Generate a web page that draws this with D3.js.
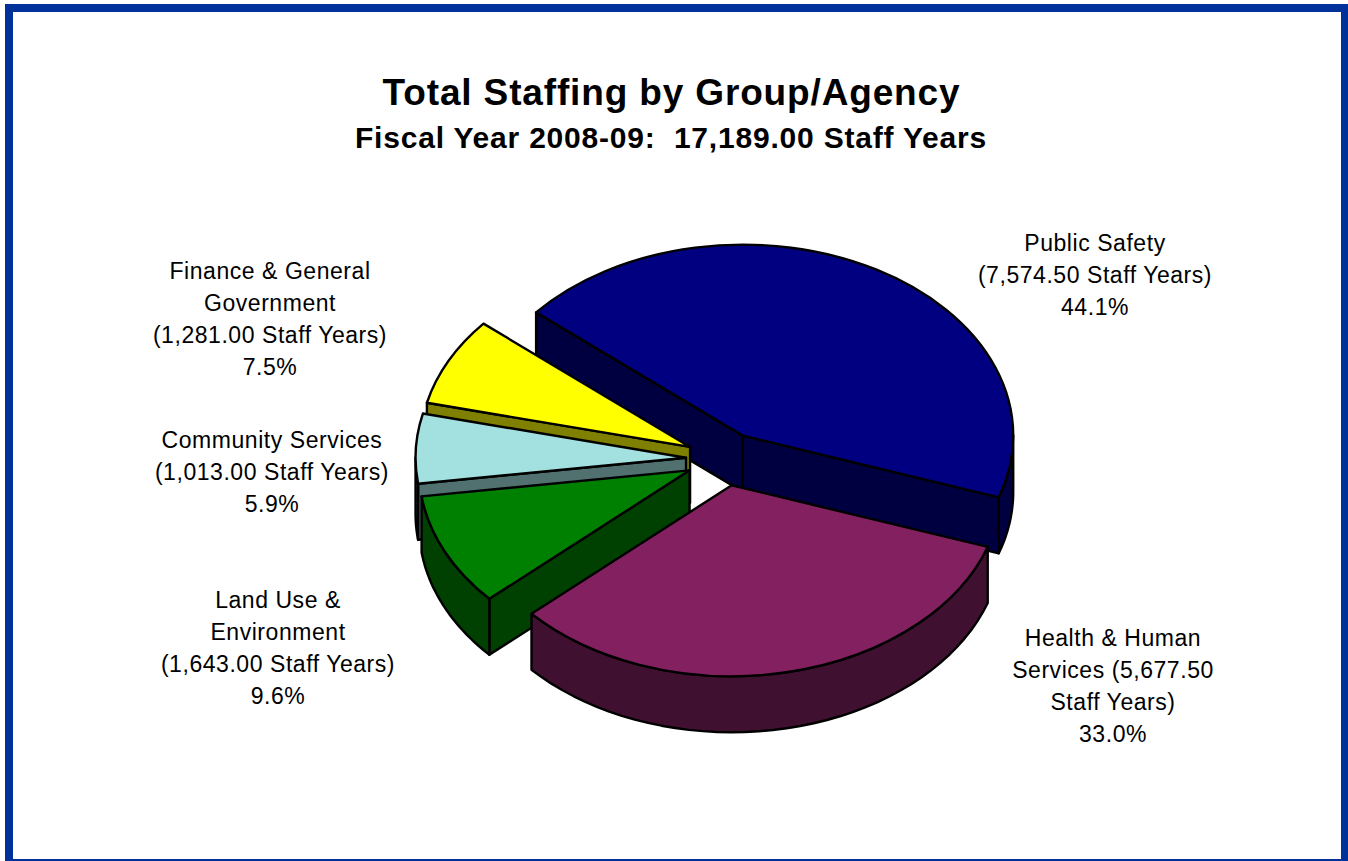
<!DOCTYPE html>
<html>
<head>
<meta charset="utf-8">
<script src="https://cdn.jsdelivr.net/npm/d3@7"></script>
<style>
  html, body { margin: 0; padding: 0; background: #fff; }
  svg { display: block; font-family: "Liberation Sans", Arial, sans-serif; }
  .slice path { stroke: #000; stroke-width: 2.4; stroke-linejoin: round; }
  .label { font-size: 23px; letter-spacing: 0.55px; fill: #000; text-anchor: middle; }
</style>
</head>
<body>
<svg id="chart" width="1348" height="861"></svg>
<script>
const groups = ['Public Safety', 'Health & Human Services', 'Land Use & Environment', 'Community Services', 'Finance & General Government'];
const staffYears = [7574.5, 5677.5, 1643, 1013, 1281];
const topColors = ['#000080', '#822060', '#008000', '#a3e0e0', '#ffff00'];
const wallColors = ['#000040', '#401030', '#004000', '#517070', '#808000'];
// word counts where each label wraps, the name and the staff years share one string
const labelBreaks = [[2], [3, 5], [3, 4], [2], [3, 4]];
const labelX = [1095, 1113, 278, 272, 270];
const labelY = [251, 646, 608, 448, 279];
const lineHeight = 32;

const title = 'Total Staffing by Group/Agency';
const subtitle = 'Fiscal Year 2008-09:  17,189.00 Staff Years';

const cx = 724, cy = 459;
const radius = 270.5;
const tilt = 0.706;
const depth = 56;
const explode = 38;
const firstAngle = -49.8 * Math.PI / 180;

const svg = d3.select('#chart');
const formatStaff = d3.format(',.2f');
const formatPct = d3.format('.1%');
const total = d3.sum(staffYears);

// frame, the bottom edge of the page cuts it down to a thin line
const frameColor = '#00309a';
svg.append('rect').attr('x', 5).attr('y', 4).attr('width', 1343).attr('height', 8).attr('fill', frameColor);
svg.append('rect').attr('x', 5).attr('y', 4).attr('width', 8).attr('height', 857).attr('fill', frameColor);
svg.append('rect').attr('x', 1341).attr('y', 4).attr('width', 7).attr('height', 857).attr('fill', frameColor);
svg.append('rect').attr('x', 5).attr('y', 859).attr('width', 1343).attr('height', 2).attr('fill', frameColor);

svg.append('text').text(title)
  .attr('x', 671.5).attr('y', 105)
  .attr('text-anchor', 'middle')
  .attr('font-size', 37).attr('font-weight', 'bold')
  .style('letter-spacing', '0.85px');
svg.append('text').text(subtitle)
  .attr('x', 671).attr('y', 148)
  .attr('text-anchor', 'middle')
  .attr('font-size', 30).attr('font-weight', 'bold')
  .style('letter-spacing', '0.8px')
  .style('white-space', 'pre');

const pie = d3.pie().sort(null)
  .startAngle(firstAngle)
  .endAngle(firstAngle + 2 * Math.PI);
const arcs = pie(staffYears);

const topArc = d3.arc().innerRadius(0).outerRadius(radius);
const line = d3.line();
const px = (a) => radius * Math.sin(a);
const py = (a) => -radius * tilt * Math.cos(a);

function wallPath(a0, a1) {
  const steps = d3.range(0, 41).map((i) => a0 + (a1 - a0) * i / 40);
  const upper = steps.map((a) => [px(a), py(a)]);
  const lower = steps.slice().reverse().map((a) => [px(a), py(a) + depth]);
  return line(upper.concat(lower)) + 'Z';
}

function radialWall(a) {
  return line([[0, 0], [px(a), py(a)], [px(a), py(a) + depth], [0, depth]]) + 'Z';
}

// back slices first, Health & Human Services goes on top of everything
const drawOrder = [0, 4, 3, 2, 1];

drawOrder.forEach((i) => {
  const d = arcs[i];
  const mid = (d.startAngle + d.endAngle) / 2;
  const g = svg.append('g')
    .attr('class', 'slice')
    .attr('transform', `translate(${cx + explode * Math.sin(mid)},${cy - explode * tilt * Math.cos(mid)})`);

  if (Math.sin(d.startAngle) < 0) {
    g.append('path').attr('d', radialWall(d.startAngle)).attr('fill', wallColors[i]);
  }
  if (Math.sin(d.endAngle) > 0) {
    g.append('path').attr('d', radialWall(d.endAngle)).attr('fill', wallColors[i]);
  }
  // the outer wall only shows on the part of the rim facing the viewer
  const a0 = Math.max(d.startAngle, Math.PI / 2);
  const a1 = Math.min(d.endAngle, 3 * Math.PI / 2);
  if (a1 > a0) {
    g.append('path').attr('d', wallPath(a0, a1)).attr('fill', wallColors[i]);
  }

  g.append('path')
    .attr('d', topArc(d))
    .attr('transform', `scale(1,${tilt})`)
    .attr('vector-effect', 'non-scaling-stroke')
    .attr('fill', topColors[i]);
});

groups.forEach((name, i) => {
  const words = `${name} (${formatStaff(staffYears[i])} Staff Years)`.split(' ');
  const cuts = [0, ...labelBreaks[i], words.length];
  const lines = d3.pairs(cuts).map(([a, b]) => words.slice(a, b).join(' '));
  lines.push(formatPct(staffYears[i] / total));
  svg.append('text')
    .attr('class', 'label')
    .selectAll('tspan')
    .data(lines)
    .join('tspan')
    .attr('x', labelX[i])
    .attr('y', (_, k) => labelY[i] + k * lineHeight)
    .text((t) => t);
});
</script>
</body>
</html>
